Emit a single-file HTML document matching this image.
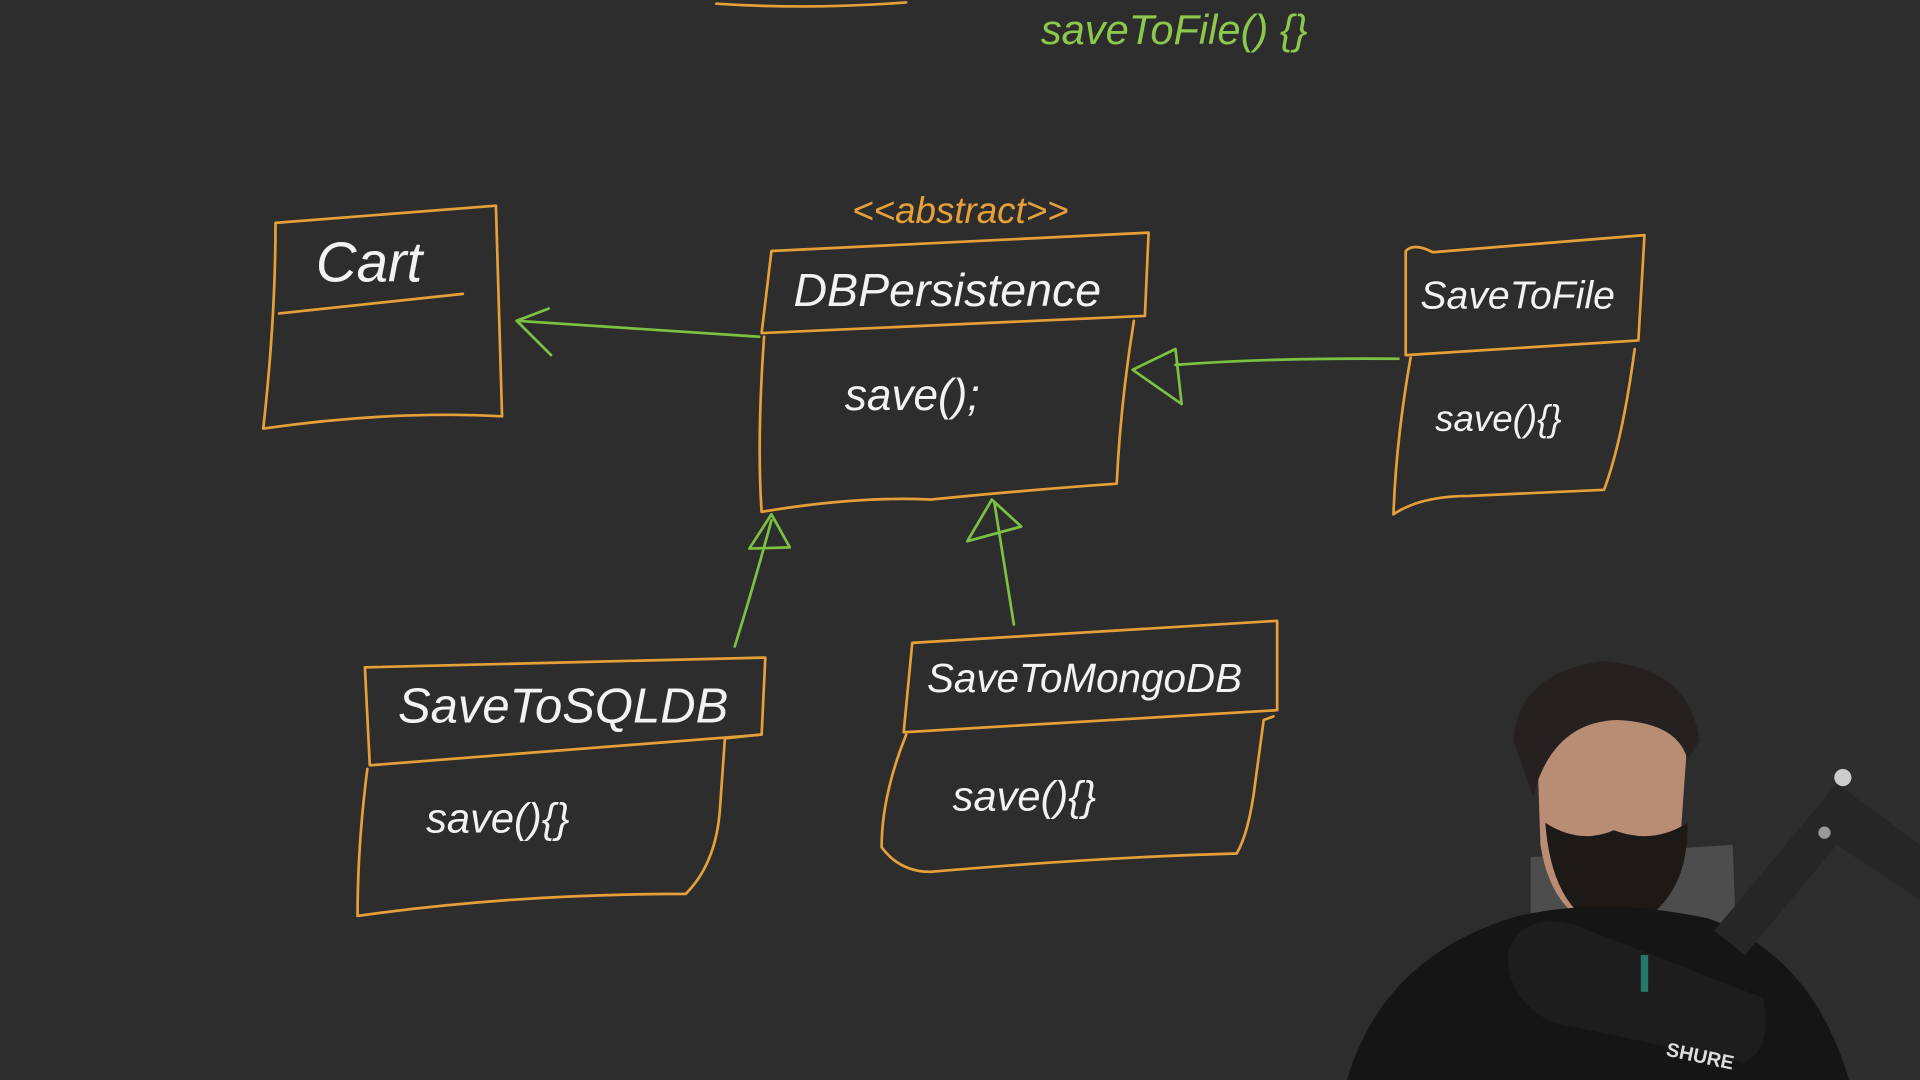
<!DOCTYPE html>
<html><head><meta charset="utf-8"><style>
html,body{margin:0;padding:0;background:#2d2d2d;overflow:hidden}
svg{display:block}
text{font-family:"Liberation Sans",sans-serif;font-style:italic;fill:#f2f2f2}
</style></head><body>
<svg width="1920" height="1080" viewBox="0 0 1568 882" xmlns="http://www.w3.org/2000/svg">
<rect width="1568" height="882" fill="#2d2d2d"/>
<g fill="none" stroke="#e6a03a" stroke-width="2.2" stroke-linecap="round" stroke-linejoin="round">
<path d="M585 3 Q660 8 740 2"/>
<path d="M225 182 L405 168 L410 340 Q320 335 215 350 Q225 260 225 182"/>
<path d="M228 256 L378 240"/>
<path d="M630 205 L938 190 L935 258 L622 272 Z"/>
<path d="M624 275 Q618 360 622 418 Q700 405 760 408 Q840 400 912 395 Q915 330 926 262"/>
<path d="M1148 205 Q1155 198 1170 206 L1343 192 L1338 278 L1148 290 Z"/>
<path d="M1152 292 Q1140 360 1138 420 Q1160 405 1200 405 Q1270 402 1310 400 Q1325 360 1335 285"/>
<path d="M298 545 L625 537 L622 600 L302 625 Z"/>
<path d="M300 628 Q292 690 292 748 Q420 730 560 730 Q585 705 588 660 L592 603 L620 600"/>
<path d="M745 525 L1043 507 L1043 580 L738 598 Z"/>
<path d="M740 600 Q720 650 720 692 Q735 712 760 712 Q900 700 1010 697 Q1020 680 1025 640 L1032 588 L1040 585"/>
</g>
<text x="696" y="182" style="fill:#e6a03a" font-size="30">&lt;&lt;abstract&gt;&gt;</text>
<text x="850" y="36" style="fill:#8cc84b" font-size="34">saveToFile() {}</text>
<text x="258" y="230" font-size="46">Cart</text>
<text x="648" y="250" font-size="38">DBPersistence</text>
<text x="690" y="335" font-size="36">save();</text>
<text x="1160" y="252" font-size="32">SaveToFile</text>
<text x="1172" y="352" font-size="30">save(){}</text>
<text x="325" y="590" font-size="40">SaveToSQLDB</text>
<text x="348" y="680" font-size="34">save(){}</text>
<text x="757" y="565" font-size="33">SaveToMongoDB</text>
<text x="778" y="662" font-size="34">save(){}</text>
<g fill="none" stroke="#7cc242" stroke-width="2.2" stroke-linecap="round" stroke-linejoin="round">
<path d="M620 275 Q520 268 422 262"/>
<path d="M448 252 L422 262 L450 290"/>
<path d="M1142 293 Q1040 292 960 298"/>
<path d="M960 285 L925 302 L965 330 Z"/>
<path d="M600 528 Q615 480 630 425"/>
<path d="M612 448 L630 420 L645 447 Z"/>
<path d="M828 510 Q820 460 812 410"/>
<path d="M790 442 L810 408 L834 430 Z"/>
</g>
<g>
<path d="M1250 700 L1415 690 L1418 770 L1250 780 Z" fill="#8a8a8a" opacity="0.35"/>
<path d="M1255 600 Q1262 560 1310 558 Q1365 560 1378 605 L1372 690 Q1360 750 1315 758 Q1268 752 1258 690 Z" fill="#b98c74"/>
<path d="M1236 605 Q1240 548 1310 540 Q1380 545 1388 605 L1378 620 Q1370 590 1320 588 Q1268 590 1252 650 Z" fill="#252120"/>
<path d="M1262 672 Q1290 690 1318 678 Q1350 690 1378 672 Q1380 740 1322 762 Q1268 752 1262 672 Z" fill="#1d1917"/>
<path d="M1100 882 Q1130 780 1240 748 Q1310 732 1395 750 Q1480 780 1510 882 Z" fill="#151515"/>
<path d="M1232 775 Q1245 745 1285 755 L1440 815 Q1448 855 1425 868 L1268 835 Q1228 815 1232 775 Z" fill="#1d1d1d"/>
<path d="M1400 760 L1500 640 L1568 690 L1568 735 L1500 690 L1425 780 Z" fill="#262626"/>
<circle cx="1505" cy="635" r="7" fill="#ccc"/>
<circle cx="1490" cy="680" r="5" fill="#999"/>
<rect x="1340" y="780" width="6" height="30" fill="#2bb7a0" opacity="0.6"/>
<text x="1360" y="862" font-size="16" style="fill:#ddd;font-weight:bold;font-style:normal" transform="rotate(12 1360 862)">SHURE</text>
</g>
</svg>
</body></html>
